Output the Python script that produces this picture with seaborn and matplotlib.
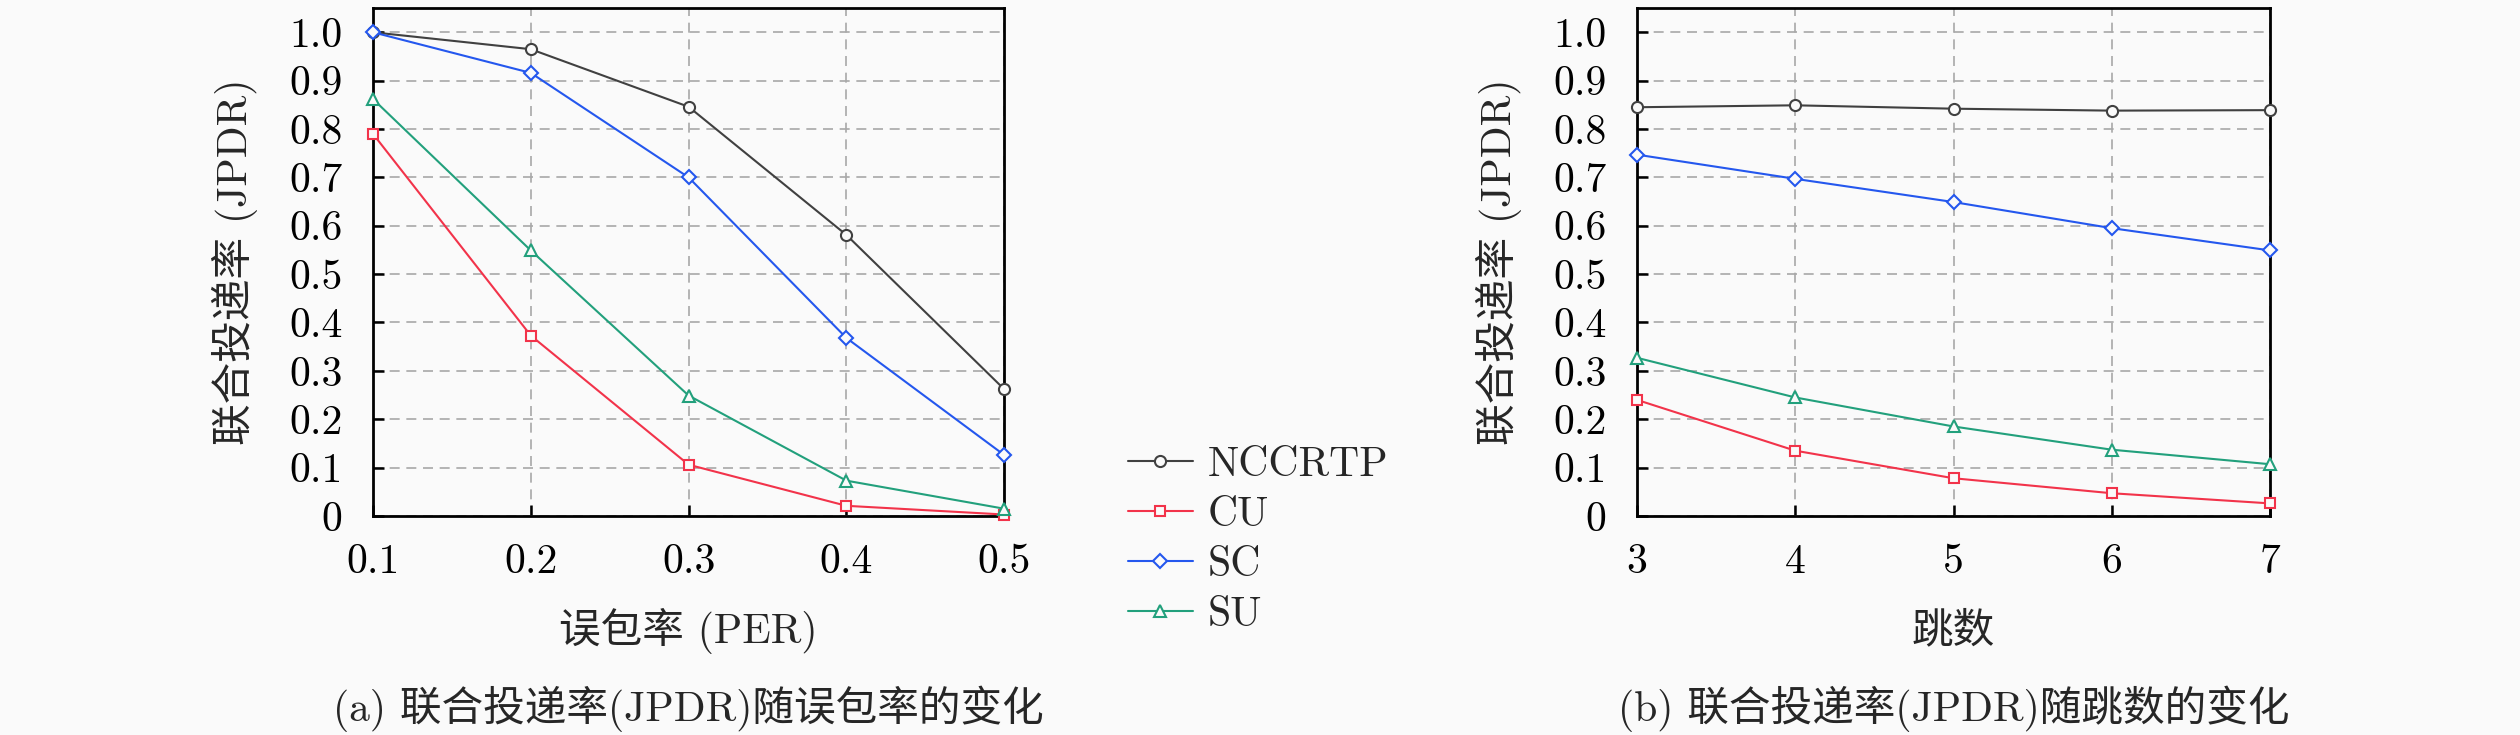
import pandas as pd
import matplotlib
matplotlib.use('Agg')
import matplotlib.pyplot as plt
import seaborn as sns

# values
methods = ['NCCRTP', 'CU', 'SC', 'SU']
per_values = [0.1, 0.2, 0.3, 0.4, 0.5]
hop_values = [3, 4, 5, 6, 7]

per_nccrtp = [1.0, 0.965, 0.846, 0.581, 0.262]
per_cu = [0.79, 0.373, 0.106, 0.021, 0.003]
per_sc = [1.0, 0.916, 0.70, 0.368, 0.126]
per_su = [0.862, 0.549, 0.249, 0.073, 0.015]

hop_nccrtp = [0.845, 0.849, 0.842, 0.838, 0.839]
hop_cu = [0.240, 0.135, 0.078, 0.047, 0.026]
hop_sc = [0.747, 0.697, 0.649, 0.595, 0.549]
hop_su = [0.327, 0.245, 0.185, 0.137, 0.107]

y_ticks = [0, 0.1, 0.2, 0.3, 0.4, 0.5, 0.6, 0.7, 0.8, 0.9, 1.0]
y_tick_labels = ['0', '0.1', '0.2', '0.3', '0.4', '0.5', '0.6', '0.7', '0.8', '0.9', '1.0']
per_tick_labels = ['0.1', '0.2', '0.3', '0.4', '0.5']
hop_tick_labels = ['3', '4', '5', '6', '7']

colors = {'NCCRTP': '#404040', 'CU': '#f2334a', 'SC': '#2457ee', 'SU': '#22a07c'}
markers = {'NCCRTP': 'o', 'CU': 's', 'SC': 'D', 'SU': '^'}
marker_sizes = {'NCCRTP': 8, 'CU': 7, 'SC': 7, 'SU': 8.5}


def long_table(xs, series):
    rows = []
    for name, vals in zip(methods, series):
        for x, v in zip(xs, vals):
            rows.append({'x': x, 'y': v, 'method': name})
    return pd.DataFrame(rows)


per_df = long_table(per_values, [per_nccrtp, per_cu, per_sc, per_su])
hop_df = long_table(hop_values, [hop_nccrtp, hop_cu, hop_sc, hop_su])

sns.set_style('ticks')
plt.rcParams['font.family'] = ['cmr10', 'Noto Sans CJK SC', 'DejaVu Sans']
plt.rcParams['axes.unicode_minus'] = False
plt.rcParams['axes.formatter.use_mathtext'] = True

bg = '#fafafa'
fig = plt.figure(figsize=(25.2, 7.35), dpi=100, facecolor=bg)
ax_a = fig.add_axes([0.148, 0.298, 0.2505, 0.691])
ax_b = fig.add_axes([0.6496, 0.298, 0.2512, 0.691])


def draw_panel(ax, df, xticks, xlabels, xlabel, caption):
    ax.set_facecolor(bg)
    sns.lineplot(data=df, x='x', y='y', hue='method', style='method',
                 hue_order=methods, style_order=methods, palette=colors,
                 markers=markers, dashes=False, legend=False, ax=ax,
                 linewidth=1.5, clip_on=False, zorder=3)
    for line, name in zip(ax.lines, methods):
        line.set_markeredgecolor(line.get_color())
        line.set_markerfacecolor(bg)
        line.set_markeredgewidth(1.5)
        line.set_markersize(marker_sizes[name])

    ax.set_xlim(xticks[0], xticks[-1])
    ax.set_ylim(0, 1.05)
    ax.set_xticks(xticks)
    ax.set_xticklabels(xlabels)
    ax.set_yticks(y_ticks)
    ax.set_yticklabels(y_tick_labels)
    ax.grid(True, color='#a8a8a8', linestyle=(0, (6, 4)), linewidth=1.2)
    ax.set_axisbelow(True)
    for sp in ax.spines.values():
        sp.set_visible(True)
        sp.set_color('black')
        sp.set_linewidth(2)
    ax.tick_params(direction='in', length=8, width=1.8, top=False, right=False,
                   labelsize=30, colors='black')
    ax.tick_params(axis='x', pad=20)
    ax.tick_params(axis='y', pad=22)

    ax.set_xlabel(xlabel, fontsize=30)
    ax.xaxis.label.set_va('center')
    ax.xaxis.set_label_coords(0.5, -0.226)
    ax.set_ylabel('联合投递率 (JPDR)', fontsize=30)
    ax.yaxis.label.set_va('center')
    ax.yaxis.set_label_coords(-0.218, 0.5)

    ax.text(0.5, -0.38, caption, transform=ax.transAxes, ha='center', va='center',
            fontsize=30)


draw_panel(ax_a, per_df, per_values, per_tick_labels, '误包率 (PER)',
           '(a) 联合投递率(JPDR)随误包率的变化')
draw_panel(ax_b, hop_df, hop_values, hop_tick_labels, '跳数',
           '(b) 联合投递率(JPDR)随跳数的变化')

fig.legend(ax_a.lines[:4], methods, loc='center left',
           bbox_to_anchor=(1128 / 2520, 1 - 540 / 735), frameon=False,
           fontsize=30, handlelength=1.55, handletextpad=0.36,
           labelspacing=0.3, borderpad=0, borderaxespad=0)

fig.savefig('out.png', dpi=100, facecolor=bg)
